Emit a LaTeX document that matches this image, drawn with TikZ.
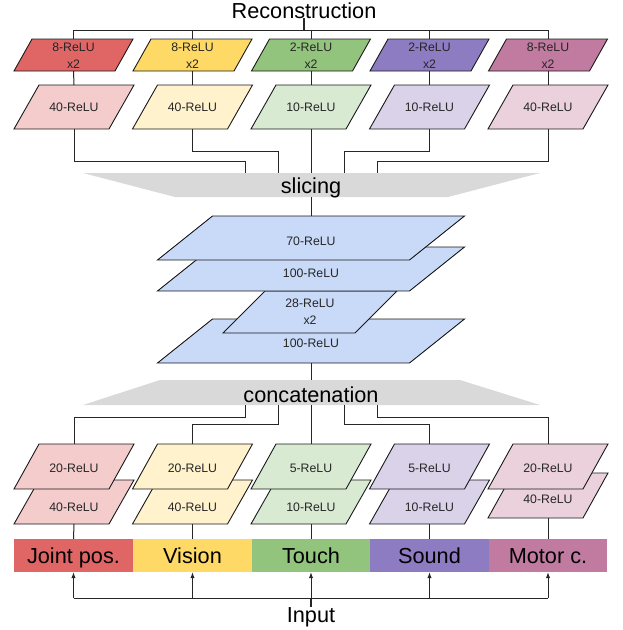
\documentclass[tikz,border=0pt]{standalone}
\usepackage{fontspec}
\setmainfont{Liberation Sans}
\usetikzlibrary{arrows.meta}
\definecolor{cRed}{HTML}{E06666}
\definecolor{cYel}{HTML}{FFD966}
\definecolor{cGrn}{HTML}{93C47D}
\definecolor{cPur}{HTML}{8E7CC3}
\definecolor{cPnk}{HTML}{C27BA0}
\definecolor{lRed}{HTML}{F4CCCC}
\definecolor{lYel}{HTML}{FFF2CC}
\definecolor{lGrn}{HTML}{D9EAD3}
\definecolor{lPur}{HTML}{D9D2E9}
\definecolor{lPnk}{HTML}{EAD1DC}
\definecolor{lBlu}{HTML}{C9DAF8}
\definecolor{lGry}{HTML}{D9D9D9}
\newcommand\bigf{\fontsize{21.7}{26}\selectfont}
\newcommand\smallf{\fontsize{12.3}{16.5}\selectfont}
\tikzset{
  anchorbox/.style={shape=rectangle, inner sep=0pt, outer sep=0pt, draw=none},
  shapeline/.style={draw=black!90, line width=0.9pt, line join=miter},
  lbl/.style={font=\smallf, align=center, inner sep=0pt, text=black!85},
  bigtxt/.style={font=\bigf, inner sep=0pt, text=black},
  bar/.style={shape=rectangle, minimum width=118.6pt, minimum height=33pt, inner sep=0pt, font=\bigf, text height=15.5pt, text depth=0pt, text=black},
  conn/.style={draw=black!85, line width=1pt},
  stub/.style={draw=black!85, line width=1.6pt},
  arr/.style={-{Latex[length=6pt,width=4.5pt]}},
  trap/.style={fill=lGry, draw=none}
}
% name, cx, cy, w, h, skew, fill
\newcommand\para[7]{%
  \node[anchorbox, minimum width={#4pt+#6pt}, minimum height={#5pt}] (#1) at (#2,#3) {};
  \filldraw[shapeline, fill=#7] (#1.south west) -- ([xshift=#4pt]#1.south west) -- (#1.north east) -- ([xshift=-#4pt]#1.north east) -- cycle;%
}
\begin{document}
\begin{tikzpicture}[x=1pt, y=-1pt]
\useasboundingbox (0,0) rectangle (622,630);

% ---------- top ----------
\node[bigtxt, anchor=base] (rec) at (304,18) {Reconstruction};
\coordinate (rhub) at (304,30);

\para{t1}{73.5}{55}{101}{32}{18}{cRed}
\para{t2}{192.5}{55}{101}{32}{18}{cYel}
\para{t3}{311}{55}{101}{32}{18}{cGrn}
\para{t4}{429.5}{55}{101}{32}{18}{cPur}
\para{t5}{548}{55}{101}{32}{18}{cPnk}
\node[lbl] (t1l) at (73.5,55.5) {8-ReLU\\x2};
\node[lbl] (t2l) at (192.5,55.5) {8-ReLU\\x2};
\node[lbl] (t3l) at (311,55.5) {2-ReLU\\x2};
\node[lbl] (t4l) at (429.5,55.5) {2-ReLU\\x2};
\node[lbl] (t5l) at (548,55.5) {8-ReLU\\x2};

\para{u1}{74}{107}{95}{44}{25}{lRed}
\para{u2}{192.5}{107}{95}{44}{25}{lYel}
\para{u3}{311}{107}{95}{44}{25}{lGrn}
\para{u4}{429.5}{107}{95}{44}{25}{lPur}
\para{u5}{548}{107}{95}{44}{25}{lPnk}
\node[lbl] (u1l) at (74,107.5) {40-ReLU};
\node[lbl] (u2l) at (192.5,107.5) {40-ReLU};
\node[lbl] (u3l) at (311,107.5) {10-ReLU};
\node[lbl] (u4l) at (429.5,107.5) {10-ReLU};
\node[lbl] (u5l) at (548,107.5) {40-ReLU};

\draw[stub] (rec.south) -- (rhub);
\draw[conn] (t1.north |- rhub) -- (t5.north |- rhub);
\foreach \i in {1,...,5}{
  \draw[conn] (t\i.north |- rhub) -- (t\i.north);
  \draw[conn] (t\i.south) -- (u\i.north);
}

% ---------- slicing ----------
\fill[trap] (83,173) -- (540,173) -- (448,197) -- (175,197) -- cycle;
\node[bigtxt, anchor=base] (slicing) at (311,193) {slicing};
\coordinate (s1) at (245,173);
\coordinate (s2) at (278,173);
\coordinate (s3) at (311,173);
\coordinate (s4) at (344,173);
\coordinate (s5) at (377,173);
\coordinate (sb) at (311,197);
\draw[conn] (u1.south) -- ++(0,32) -| (s1);
\draw[conn] (u2.south) -- ++(0,22) -| (s2);
\draw[conn] (u3.south) -- (s3);
\draw[conn] (u4.south) -- ++(0,22) -| (s4);
\draw[conn] (u5.south) -- ++(0,32) -| (s5);
\draw[conn] (slicing.south |- sb) -- (slicing.south);

% ---------- middle stack ----------
\para{m4}{311}{341}{252}{44}{55}{lBlu}
\node[lbl] (m4l) at (311,343) {100-ReLU};
\para{m3}{310}{312}{132}{42}{42}{lBlu}
\node[lbl] (m3l) at (310,311.5) {28-ReLU\\x2};
\para{m2}{311}{269}{252}{44}{55}{lBlu}
\node[lbl] (m2l) at (311,273) {100-ReLU};
\para{m1}{311}{238}{252}{44}{55}{lBlu}
\node[lbl] (m1l) at (311,241.5) {70-ReLU};
\draw[conn] (sb) -- (m1.north);

% ---------- concatenation ----------
\fill[trap] (160,380) -- (460,380) -- (540,405) -- (83,405) -- cycle;
\node[bigtxt, anchor=base] (concat) at (311,402) {concatenation};
\coordinate (ct) at (311,380);
\draw[conn] (m4.south) -- (ct);
\coordinate (c1) at (245,405);
\coordinate (c2) at (278,405);
\coordinate (c3) at (311,405);
\coordinate (c4) at (344,405);
\coordinate (c5) at (377,405);

% ---------- bottom rows ----------
\para{e1}{74}{502}{95}{44}{25}{lRed}
\node[lbl] (e1l) at (74,507) {40-ReLU};
\para{d1}{74}{466.5}{95}{45}{25}{lRed}
\node[lbl] (d1l) at (74,468) {20-ReLU};
\para{e2}{192.5}{502}{95}{44}{25}{lYel}
\node[lbl] (e2l) at (192.5,507) {40-ReLU};
\para{d2}{192.5}{466.5}{95}{45}{25}{lYel}
\node[lbl] (d2l) at (192.5,468) {20-ReLU};
\para{e3}{311}{502}{95}{44}{25}{lGrn}
\node[lbl] (e3l) at (311,507) {10-ReLU};
\para{d3}{311}{466.5}{95}{45}{25}{lGrn}
\node[lbl] (d3l) at (311,468) {5-ReLU};
\para{e4}{429.5}{502}{95}{44}{25}{lPur}
\node[lbl] (e4l) at (429.5,507) {10-ReLU};
\para{d4}{429.5}{466.5}{95}{45}{25}{lPur}
\node[lbl] (d4l) at (429.5,468) {5-ReLU};
\para{e5}{548}{495.5}{95}{45}{25}{lPnk}
\node[lbl] (e5l) at (548,499.5) {40-ReLU};
\para{d5}{548}{466.5}{95}{45}{25}{lPnk}
\node[lbl] (d5l) at (548,468) {20-ReLU};

\draw[conn] (c1) -- ++(0,12) -| (d1.north);
\draw[conn] (c2) -- ++(0,19) -| (d2.north);
\draw[conn] (c3) -- (d3.north);
\draw[conn] (c4) -- ++(0,19) -| (d4.north);
\draw[conn] (c5) -- ++(0,12) -| (d5.north);

% ---------- input bars ----------
\node[bar, fill=cRed] (b1) at (73.5,555.5) {Joint pos.};
\node[bar, fill=cYel] (b2) at (192.5,555.5) {Vision};
\node[bar, fill=cGrn] (b3) at (311,555.5) {Touch};
\node[bar, fill=cPur] (b4) at (429.5,555.5) {Sound};
\node[bar, fill=cPnk] (b5) at (548,555.5) {Motor c.};
\foreach \i in {1,...,5}{
  \draw[conn] (e\i.south) -- (b\i.north);
}

\node[bigtxt, anchor=base] (inp) at (311,622) {Input};
\coordinate (ihub) at (311,598);
\draw[stub] (inp.north) -- (ihub);
\draw[conn] (b1.south |- ihub) -- (b5.south |- ihub);
\foreach \i in {1,...,5}{
  \draw[conn, arr] (b\i.south |- ihub) -- (b\i.south);
}
\end{tikzpicture}
\end{document}
